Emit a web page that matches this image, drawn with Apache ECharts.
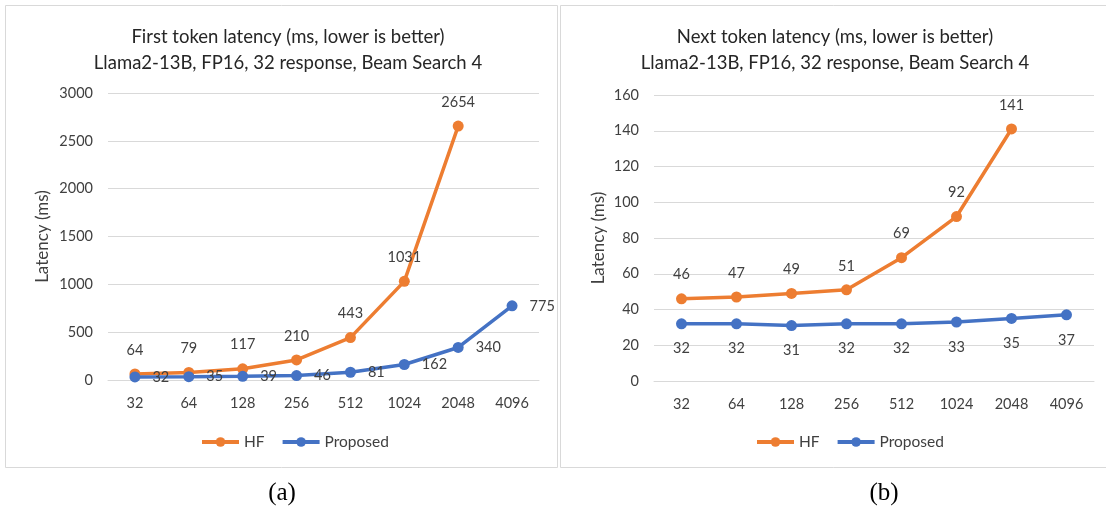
<!DOCTYPE html>
<html>
<head>
<meta charset="utf-8">
<script src="https://cdn.jsdelivr.net/npm/echarts@6/dist/echarts.min.js"></script>
<style>
  html, body { margin: 0; padding: 0; background: #fff; }
  #chart { width: 1106px; height: 506px; }
</style>
</head>
<body>
<div id="chart"></div>
<script>
// input lengths (x axis)
var inputLengths = ['32', '64', '128', '256', '512', '1024', '2048', '4096'];

// (a) first token latency, ms
var firstHF = [64, 79, 117, 210, 443, 1031, 2654, null];
var firstProposed = [32, 35, 39, 46, 81, 162, 340, 775];

// (b) next token latency, ms
var nextHF = [46, 47, 49, 51, 69, 92, 141, null];
var nextProposed = [32, 32, 31, 32, 32, 33, 35, 37];

var titles = [
    'First token latency (ms, lower is better)\nLlama2-13B, FP16, 32 response, Beam Search 4',
    'Next token latency (ms, lower is better)\nLlama2-13B, FP16, 32 response, Beam Search 4'
];
var captions = ['(a)', '(b)'];

var ORANGE = '#ED7D31';
var BLUE = '#4472C4';
var FONT = 'Lato';
var TXT = '#404040';

var dom = document.getElementById('chart');
var myChart = echarts.init(dom);

function xAxis(idx) {
    return {
        gridIndex: idx,
        type: 'category',
        data: inputLengths,
        boundaryGap: true,
        axisLine: { lineStyle: { color: '#d9d9d9' } },
        axisTick: { show: false },
        axisLabel: { color: TXT, fontFamily: FONT, fontSize: 14.5, margin: 16 }
    };
}

function yAxis(idx, max, interval, gap) {
    return {
        gridIndex: idx,
        type: 'value',
        min: 0,
        max: max,
        interval: interval,
        name: 'Latency (ms)',
        nameLocation: 'middle',
        nameGap: gap,
        nameTextStyle: { color: TXT, fontFamily: FONT, fontSize: 17 },
        axisLine: { show: false },
        axisTick: { show: false },
        axisLabel: {
            color: TXT, fontFamily: FONT, fontSize: 14.5, margin: 15,
            formatter: function (v) { return String(v); }
        },
        splitLine: { lineStyle: { color: '#d9d9d9', width: 1 } }
    };
}

function line(name, data, idx, color, labelPos) {
    return {
        name: name,
        type: 'line',
        xAxisIndex: idx,
        yAxisIndex: idx,
        data: data,
        symbol: 'circle',
        symbolSize: 11,
        lineStyle: { color: color, width: 3.5 },
        itemStyle: { color: color },
        label: {
            show: true,
            position: labelPos,
            distance: labelPos == 'top' ? 11 : 12,
            color: TXT,
            fontFamily: FONT,
            fontSize: 14.5
        }
    };
}

function legend(leftX) {
    return {
        data: ['HF', 'Proposed'],
        left: leftX,
        top: 429,
        itemWidth: 37,
        itemHeight: 12,
        itemGap: 16,
        itemStyle: { borderWidth: 0 },
        lineStyle: { width: 4 },
        textStyle: { color: TXT, fontFamily: FONT, fontSize: 15.5 }
    };
}

var titleStyle = { color: '#262626', fontFamily: FONT, fontSize: 18.5, fontWeight: 'normal', lineHeight: 26 };

option = {
    animation: false,
    backgroundColor: '#fff',
    title: [
        { text: titles[0], left: 283, top: 19, textAlign: 'center', textStyle: titleStyle },
        { text: titles[1], left: 830, top: 19, textAlign: 'center', textStyle: titleStyle }
    ],
    legend: [legend(195), legend(750)],
    grid: [
        { left: 108, right: 1106 - 539, top: 93, bottom: 506 - 380 },
        { left: 654, right: 1106 - 1094, top: 95, bottom: 506 - 381 }
    ],
    xAxis: [xAxis(0), xAxis(1)],
    yAxis: [yAxis(0, 3000, 500, 57), yAxis(1, 160, 20, 47)],
    series: [
        line('HF', firstHF, 0, ORANGE, 'top'),
        line('Proposed', firstProposed, 0, BLUE, 'right'),
        line('HF', nextHF, 1, ORANGE, 'top'),
        line('Proposed', nextProposed, 1, BLUE, 'bottom')
    ],
    graphic: [
        { type: 'rect', shape: { x: 5.5, y: 5.5, width: 552, height: 462 },
          style: { fill: 'none', stroke: '#d9d9d9', lineWidth: 1 }, z: -1 },
        { type: 'rect', shape: { x: 560.5, y: 5.5, width: 560, height: 462 },
          style: { fill: 'none', stroke: '#d9d9d9', lineWidth: 1 }, z: -1 },
        { type: 'text', x: 282, y: 493,
          style: { text: captions[0], fill: '#000', font: '25px "Liberation Serif"', textAlign: 'center', textVerticalAlign: 'middle' } },
        { type: 'text', x: 884, y: 493,
          style: { text: captions[1], fill: '#000', font: '25px "Liberation Serif"', textAlign: 'center', textVerticalAlign: 'middle' } }
    ]
};

if (option && typeof option === "object") {
    myChart.setOption(option, true);
}
</script>
</body>
</html>
